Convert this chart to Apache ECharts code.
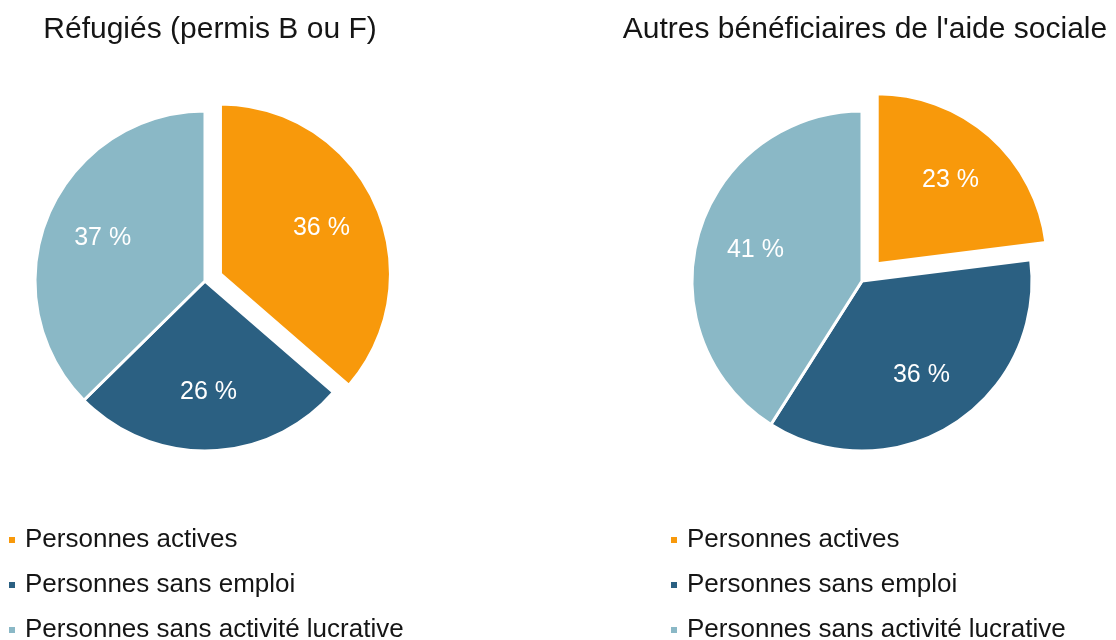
<!DOCTYPE html>
<html>
<head>
    <meta charset="utf-8" />
    <title>Aide sociale</title>
    <script src="https://cdn.jsdelivr.net/npm/echarts@6/dist/echarts.min.js"></script>
    <style>
        html, body { margin: 0; padding: 0; background: #fff; }
        #chart { width: 1116px; height: 640px; }
    </style>
</head>
<body>
    <div id="chart"></div>
    <script>
        var categories = ['Personnes actives', 'Personnes sans emploi', 'Personnes sans activité lucrative'];
        var refugies = [36, 26, 37];
        var autres = [23, 36, 41];
        var titles = ['Réfugiés (permis B ou F)', "Autres bénéficiaires de l'aide sociale"];
        var colors = ['#F8990B', '#2B6082', '#8AB8C6'];

        var font = '"Liberation Sans", Arial, sans-serif';
        var R = 170;

        function pieData(values, transparent) {
            return values.map(function (v, i) {
                var item = { name: categories[i], value: v, selected: i == 0 };
                if (transparent) item.itemStyle = { color: 'rgba(0,0,0,0)', borderWidth: 0 };
                return item;
            });
        }

        function makePie(values, center, offset) {
            // the slices
            var shape = {
                type: 'pie',
                center: center,
                radius: [0, R],
                startAngle: 90,
                selectedMode: 'multiple',
                selectedOffset: offset,
                silent: true,
                animation: false,
                itemStyle: { borderColor: '#fff', borderWidth: 3 },
                label: { show: false },
                labelLine: { show: false },
                data: pieData(values, false)
            };
            // invisible ring, only to put labels at ~0.63 R
            var labels = {
                type: 'pie',
                center: center,
                radius: [R * 0.27, R],
                startAngle: 90,
                selectedMode: 'multiple',
                selectedOffset: offset,
                silent: true,
                animation: false,
                legendHoverLink: false,
                label: {
                    show: true,
                    position: 'inner',
                    color: '#fff',
                    fontSize: 25,
                    fontFamily: font,
                    formatter: '{c} %'
                },
                labelLine: { show: false },
                data: pieData(values, true)
            };
            return [shape, labels];
        }

        function makeLegend(left) {
            return {
                orient: 'vertical',
                left: left,
                top: 527,
                width: 440,
                height: 160,
                padding: 0,
                icon: 'rect',
                itemWidth: 8,
                itemHeight: 8,
                itemGap: 19,
                selectedMode: false,
                data: categories,
                textStyle: { fontSize: 26, fontFamily: font, color: '#151515', lineHeight: 26, padding: [0, 0, 0, 4] }
            };
        }

        var chart = echarts.init(document.getElementById('chart'));

        chart.setOption({
            color: colors,
            animation: false,
            title: [
                { text: titles[0], left: 205, top: 10, textAlign: 'center',
                  textStyle: { fontSize: 30, fontWeight: 'normal', fontFamily: font, color: '#151515' } },
                { text: titles[1], left: 860, top: 10, textAlign: 'center',
                  textStyle: { fontSize: 30, fontWeight: 'normal', fontFamily: font, color: '#151515' } }
            ],
            legend: [makeLegend(7), makeLegend(669)],
            series: makePie(refugies, [205, 281], 17).concat(makePie(autres, [862, 281], 23))
        });
    </script>
</body>
</html>
